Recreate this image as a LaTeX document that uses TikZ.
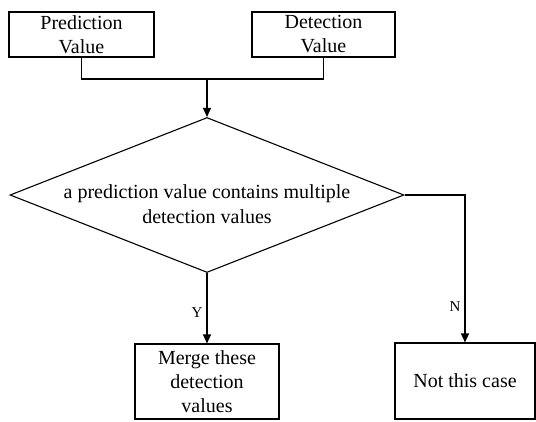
\documentclass[tikz,border=0pt]{standalone}
\usepackage{fontspec}
\setmainfont{Liberation Serif}
\usetikzlibrary{positioning, calc, arrows.meta, shapes.geometric}

\begin{document}
\begin{tikzpicture}[x=1pt, y=-1pt, line width=1.1pt,
    box/.style={draw, rectangle, inner sep=0pt, align=center,
        font=\fontsize{20}{24}\selectfont},
    decision/.style={draw, diamond, inner sep=0pt,
        minimum width=394pt, minimum height=155pt},
    arr/.style={-{Triangle[length=9pt, width=8pt]}},
    yn/.style={font=\fontsize{15}{18}\selectfont, inner sep=4pt}]
    % fix the margins
    \useasboundingbox (0,0) rectangle (536,421);

    % the two inputs
    \node[box, minimum width=145pt, minimum height=45pt] (pred) at (81.5,34.5) {Prediction\\Value};
    \node[box, minimum width=143pt, minimum height=45pt] (det) at (323.5,34.5) {Detection\\Value};

    % the decision
    \node[decision] (dec) at (207,195) {};
    \node[align=center, inner sep=0pt, font=\fontsize{20}{25}\selectfont] (dectext) at (207,204.5)
        {a prediction value contains multiple\\detection values};

    % the two outcomes
    \node[box, minimum width=144pt, minimum height=75pt] (merge) at (207,381.5) {Merge these\\detection\\values};
    \node[box, minimum width=140pt, minimum height=76pt] (other) at (465,381) {Not this case};

    % connectors
    \coordinate (join) at (207,79);
    \draw (pred.south) |- (join) -| (det.south);
    \draw[arr] (join) -- (dec.north);
    \draw[arr] (dec.south) -- node[pos=0.56, left, yn] {Y} (merge.north);
    \draw[arr] (dec.east) -| node[pos=0.88, left, yn] {N} (other.north);
\end{tikzpicture}
\end{document}
